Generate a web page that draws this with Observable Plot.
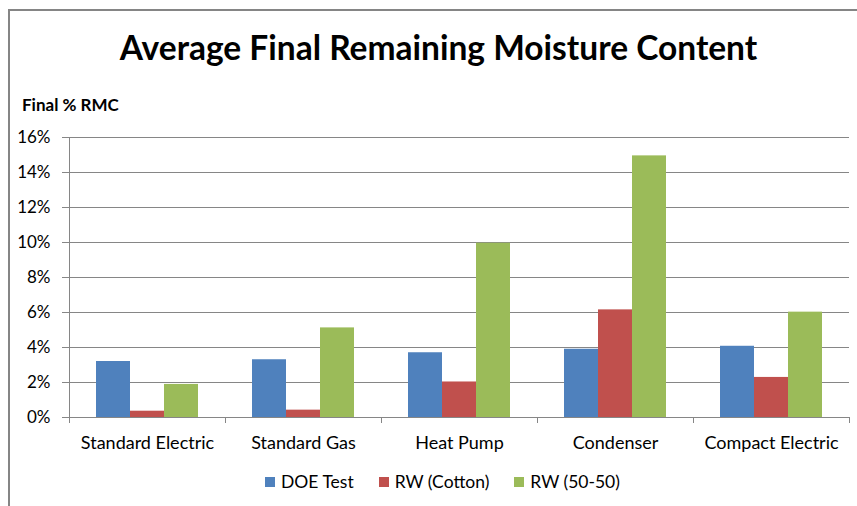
<!DOCTYPE html>
<html>
<head>
<meta charset="utf-8">
<script src="https://cdn.jsdelivr.net/npm/d3@7"></script>
<script src="https://cdn.jsdelivr.net/npm/@observablehq/plot@0.6"></script>
<style>
  body { margin: 0; background: #fff; }
  #wrap { position: relative; width: 857px; height: 506px; overflow: hidden; font-family: Lato, "Open Sans", sans-serif; color: #000; background: #fff; }
  #border { position: absolute; left: 8px; top: 9px; width: 1000px; height: 1000px; border-top: 2px solid #858585; border-left: 2px solid #858585; }
  #title { position: absolute; top: 27px; left: 0; width: 877px; text-align: center; font-weight: bold; font-size: 33.5px; line-height: 40px; }
  #ylabel { position: absolute; left: 22px; top: 95px; font-weight: bold; font-size: 17px; line-height: 20px; }
  #chart { position: absolute; left: 0; top: 0; }
  #legend { position: absolute; left: 265px; top: 472px; display: flex; align-items: center; font-size: 17.5px; line-height: 20px; }
  .item { display: flex; align-items: center; margin-right: 25px; }
  .sw { width: 10px; height: 10px; margin-right: 6px; }
</style>
</head>
<body>
<div id="wrap">
  <div id="border"></div>
  <div id="title">Average Final Remaining Moisture Content</div>
  <div id="ylabel">Final % RMC</div>
  <div id="chart"></div>
  <div id="legend"></div>
</div>
<script>
const categories = ["Standard Electric", "Standard Gas", "Heat Pump", "Condenser", "Compact Electric"];
const series = ["DOE Test", "RW (Cotton)", "RW (50-50)"];
const doeTest  = [3.2, 3.3, 3.7, 3.9, 4.07];
const rwCotton = [0.36, 0.42, 2.03, 6.15, 2.29];
const rw5050   = [1.89, 5.12, 9.96, 14.95, 6.02];
const colors = ["#4F81BD", "#C0504D", "#9BBB59"];
const yTicks = [0, 2, 4, 6, 8, 10, 12, 14, 16];

const valuesBySeries = [doeTest, rwCotton, rw5050];
const rows = [];
categories.forEach((c, i) => series.forEach((s, j) => rows.push({category: c, series: s, value: valuesBySeries[j][i]})));

const gray = "#868686";
const chart = Plot.plot({
  width: 857,
  height: 506,
  marginTop: 137,
  marginBottom: 89,
  marginLeft: 67,
  marginRight: 7,
  style: {fontFamily: "Lato, 'Open Sans', sans-serif", fontSize: "17px", color: "#000", background: "transparent", overflow: "visible"},
  fx: {domain: categories, padding: 0, label: null},
  x: {domain: series, paddingInner: 0, paddingOuter: 0.75, axis: null},
  y: {domain: [0, 16]},
  color: {domain: series, range: colors},
  marks: [
    Plot.gridY(yTicks, {stroke: gray, strokeOpacity: 1}),
    Plot.axisY(yTicks, {tickSize: 7, tickPadding: 12, tickFormat: d => d + "%", stroke: gray, fill: "#000", label: null, fontSize: 17}),
    Plot.axisFx({anchor: "bottom", tickSize: 0, tickPadding: 19, label: null, fontSize: 18, fill: "#000"}),
    Plot.barY(rows, {fx: "category", x: "series", y: "value", fill: "series"}),
    Plot.ruleY([0], {stroke: gray})
  ]
});

// category boundary ticks and the vertical axis line, positioned from the plot's own scales
const fx = chart.scale("fx");
const y = chart.scale("y");
const y0 = y.apply(0);
const bounds = categories.map(c => fx.apply(c)).concat([fx.apply(categories[categories.length - 1]) + fx.bandwidth]);
const svg = d3.select(chart);
const g = svg.append("g").attr("stroke", gray).attr("shape-rendering", "crispEdges");
g.selectAll("line.b").data(bounds).join("line").attr("class", "b")
  .attr("x1", d => Math.round(d) + 0.5).attr("x2", d => Math.round(d) + 0.5)
  .attr("y1", y0).attr("y2", y0 + 6);
g.append("line")
  .attr("x1", Math.round(bounds[0]) + 0.5).attr("x2", Math.round(bounds[0]) + 0.5)
  .attr("y1", y.apply(16)).attr("y2", y0 + 6);

document.getElementById("chart").appendChild(chart);

const legend = d3.select("#legend");
series.forEach((s, i) => {
  const it = legend.append("div").attr("class", "item");
  it.append("div").attr("class", "sw").style("background", colors[i]);
  it.append("span").text(s);
});
</script>
</body>
</html>
